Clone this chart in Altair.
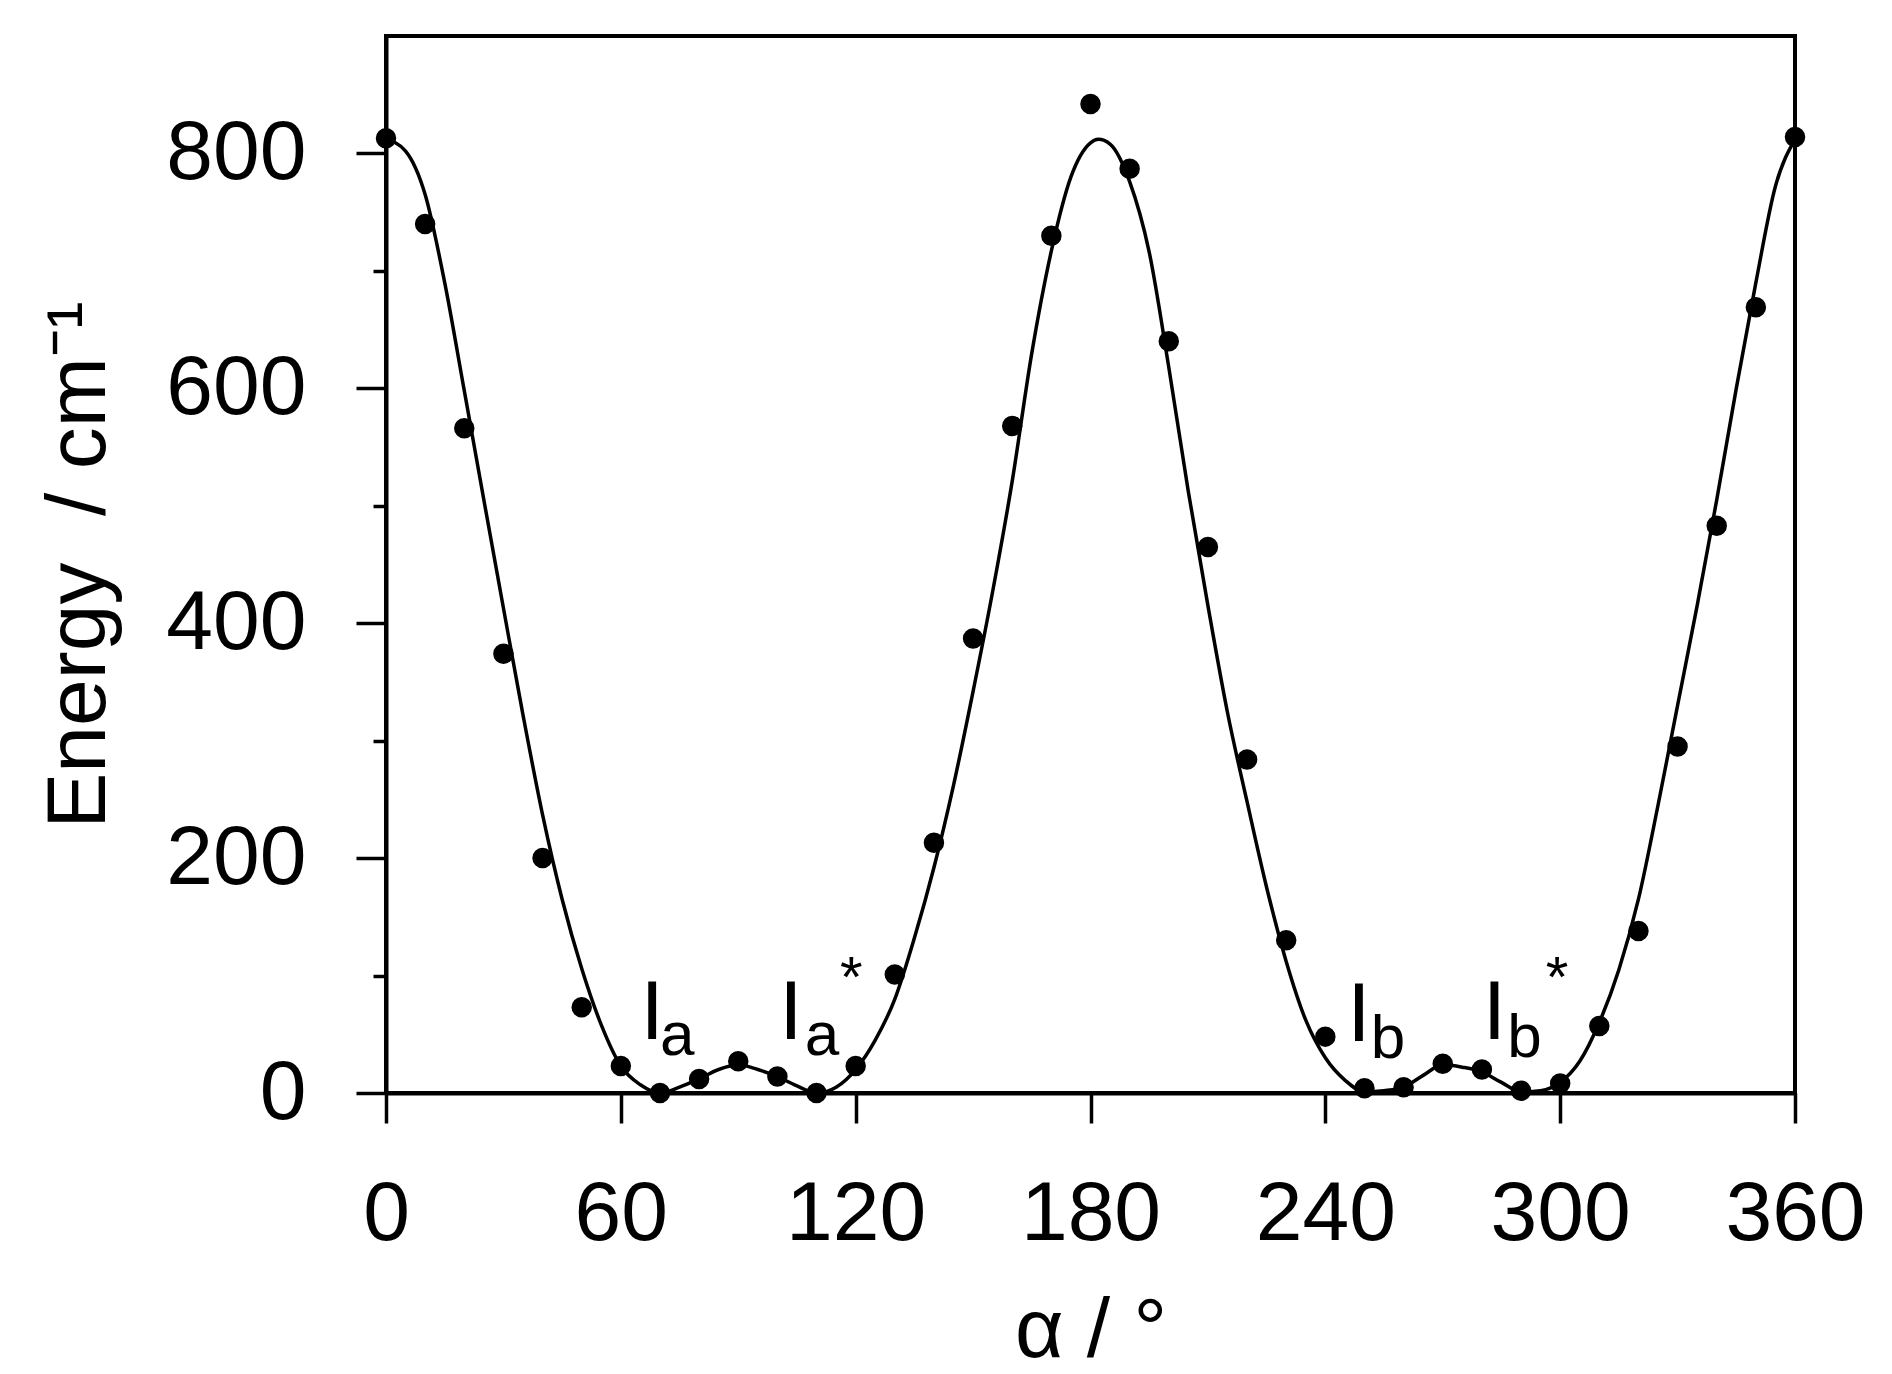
import altair as alt
import pandas as pd

# Computed points (every 10 degrees)
point_angles = list(range(0, 361, 10))
point_energy = [813, 740, 566, 374, 200, 73, 23, 0, 12, 27, 14, 0, 23, 101, 213, 387,
                568, 730, 842, 787, 640, 465, 284, 130, 48, 4, 5, 25, 20, 2, 8, 57,
                138, 295, 483, 669, 814]

# Fitted curve
fit_angles = [0, 5, 10, 15, 20, 25, 30, 35, 40, 45, 50, 55, 60, 65, 70, 75, 80, 85, 90,
              95, 100, 105, 110, 115, 120, 125, 130, 135, 140, 145, 150, 155, 160, 165,
              170, 175, 180, 182, 185, 190, 195, 200, 205, 210, 215, 220, 225, 230, 235,
              240, 245, 250, 255, 260, 265, 270, 275, 280, 285, 290, 295, 300, 305, 310,
              315, 320, 325, 330, 335, 340, 345, 350, 355, 360]
fit_energy = [812, 802, 765, 690, 598, 505, 413, 322, 237, 165, 106, 58, 23, 7, 0, 5, 12,
              20, 24, 20, 14, 6, 0, 5, 20, 45, 80, 132, 192, 262, 342, 427, 521, 630, 717,
              780, 809, 812, 808, 776, 716, 618, 512, 415, 324, 248, 175, 112, 62, 30, 11,
              1, 2, 5, 15, 24, 22, 18, 9, 1, 2, 9, 27, 60, 105, 165, 245, 330, 415, 505,
              600, 690, 772, 812]

# Conformer labels
label_text = ["I", "I", "I", "I"]
label_angle = [65, 100.5, 245.6, 280.2]
label_energy = [46, 46, 44, 46]
sub_text = ["a", "a", "b", "b"]
sub_angle = [70.0, 107.0, 251.6, 286.5]
sub_energy = [32, 32, 30, 31]
star_text = ["*", "*"]
star_angle = [116.0, 296.3]
star_energy = [82, 82]

FONT = "Liberation Sans"

pts = pd.DataFrame({"angle": point_angles, "energy": point_energy})
fit = pd.DataFrame({"angle": fit_angles, "energy": fit_energy})
lab = pd.DataFrame({"angle": label_angle, "energy": label_energy, "t": label_text})
sub = pd.DataFrame({"angle": sub_angle, "energy": sub_energy, "t": sub_text})
star = pd.DataFrame({"angle": star_angle, "energy": star_energy, "t": star_text})

x_enc = alt.X("angle:Q", scale=alt.Scale(domain=[0, 360], nice=False, zero=False),
              axis=alt.Axis(values=[0, 60, 120, 180, 240, 300, 360], title="α / °",
                            tickSize=30, labelPadding=50, titlePadding=34))
y_enc = alt.Y("energy:Q", scale=alt.Scale(domain=[0, 900], nice=False),
              axis=alt.Axis(values=[0, 100, 200, 300, 400, 500, 600, 700, 800],
                            labelExpr="datum.value % 200 == 0 ? datum.label : ''",
                            tickSize={"condition": {"test": "datum.value % 200 == 0", "value": 30}, "value": 13},
                            title="Energy\u00a0\u00a0/ cm⁻¹", labelPadding=50, titlePadding=64))

line = alt.Chart(fit).mark_line(color="black", strokeWidth=3.5, interpolate="monotone").encode(
    x=x_enc, y=y_enc)
dots = alt.Chart(pts).mark_circle(color="black", opacity=1, size=420).encode(
    x="angle:Q", y="energy:Q")
t1 = alt.Chart(lab).mark_text(font=FONT, fontSize=84, align="left", baseline="alphabetic",
                              color="black").encode(x="angle:Q", y="energy:Q", text="t:N")
t2 = alt.Chart(sub).mark_text(font=FONT, fontSize=62, align="left", baseline="alphabetic",
                              color="black").encode(x="angle:Q", y="energy:Q", text="t:N")
t3 = alt.Chart(star).mark_text(font=FONT, fontSize=58, align="left", baseline="alphabetic",
                               color="black").encode(x="angle:Q", y="energy:Q", text="t:N")

chart = alt.layer(line, dots, t1, t2, t3).properties(
    width=1409, height=1057,
    padding={"left": 29, "top": 28, "right": 5, "bottom": 5},
).configure_view(
    stroke="black", strokeWidth=4
).configure_axis(
    grid=False, domainColor="black", domainWidth=4, tickColor="black", tickWidth=3.5,
    labelFont=FONT, labelFontSize=84, labelColor="black",
    titleFont=FONT, titleFontSize=84, titleFontWeight="normal", titleColor="black",
    labelFlush=False, labelOverlap=False
)

chart.save("out.html", embed_options={"renderer": "svg", "actions": False})
